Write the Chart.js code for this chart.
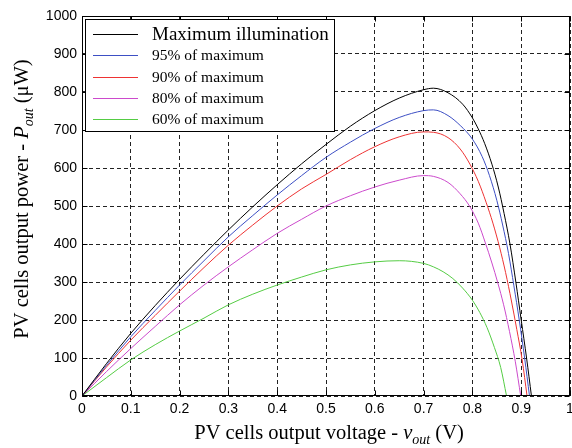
<!DOCTYPE html>
<html><head><meta charset="utf-8">
<script src="https://cdn.jsdelivr.net/npm/chart.js@4/dist/chart.umd.min.js"></script>
<style>html,body{margin:0;padding:0;background:#fff}#wrap{width:572px;height:448px}</style>
</head><body><div id="wrap"><canvas id="c" width="572" height="448"></canvas></div>
<script>
const seriesLabels = ['Maximum illumination', '95% of maximum', '90% of maximum', '80% of maximum', '60% of maximum'];
const seriesColors = ['#000000', '#3d4fc4', '#ee3333', '#cc4acc', '#55cc44'];

const voltsMax = [0,0.05,0.1,0.15,0.2,0.25,0.3,0.35,0.4,0.45,0.5,0.55,0.6,0.65,0.7,0.72,0.75,0.78,0.8,0.812,0.825,0.84,0.853,0.865,0.877,0.889,0.9,0.911,0.921];
const powerMax = [0,85,165,238,307,373,437,498,556,611,662,710,751,784,806,810,798,768,732,703,665,610,550,480,400,300,200,100,0];

const volts95 = [0,0.05,0.1,0.15,0.2,0.25,0.3,0.35,0.4,0.45,0.5,0.55,0.6,0.65,0.7,0.72,0.75,0.775,0.8,0.82,0.835,0.85,0.862,0.874,0.885,0.896,0.907,0.917];
const power95 = [0,80,156,225,292,356,419,475,529,580,628,668,704,733,751,753,738,712,676,630,580,515,450,375,290,200,100,0];

const volts90 = [0,0.05,0.1,0.15,0.2,0.25,0.3,0.35,0.4,0.45,0.5,0.55,0.6,0.65,0.7,0.72,0.75,0.775,0.795,0.812,0.828,0.842,0.856,0.868,0.88,0.891,0.902,0.912];
const power90 = [0,76,147,212,276,338,397,450,500,545,583,622,656,682,695,694,680,650,610,565,510,455,390,325,250,175,95,0];

const volts80 = [0,0.05,0.1,0.15,0.2,0.25,0.3,0.35,0.4,0.45,0.5,0.55,0.6,0.65,0.7,0.72,0.75,0.775,0.795,0.812,0.826,0.84,0.852,0.864,0.876,0.888,0.899];
const power80 = [0,64,125,183,240,292,340,385,428,465,500,527,550,568,580,578,562,532,498,455,405,350,298,240,170,90,0];

const volts60 = [0,0.05,0.1,0.15,0.2,0.25,0.3,0.35,0.4,0.45,0.5,0.55,0.6,0.65,0.7,0.72,0.74,0.76,0.78,0.8,0.815,0.83,0.845,0.858,0.87];
const power60 = [0,48,95,135,171,205,240,268,292,313,332,345,353,356,349,340,327,309,284,252,220,180,128,75,0];

const xTicks = [0,0.1,0.2,0.3,0.4,0.5,0.6,0.7,0.8,0.9,1];
const yTicks = [0,100,200,300,400,500,600,700,800,900,1000];

const seriesVolts = [voltsMax, volts95, volts90, volts80, volts60];
const seriesPower = [powerMax, power95, power90, power80, power60];

const datasets = seriesLabels.map((lab, i) => ({
  label: lab,
  data: seriesVolts[i].map((v, k) => ({x: v, y: seriesPower[i][k]})),
  borderColor: seriesColors[i],
  backgroundColor: seriesColors[i],
  borderWidth: 1,
  pointRadius: 0,
  fill: false,
  tension: 0.4,
  cubicInterpolationMode: 'monotone'
}));

function drawPieces(ctx, pieces, cx, baseY) {
  let total = 0;
  pieces.forEach(p => { ctx.font = p.font; p.w = ctx.measureText(p.t).width; total += p.w; });
  let xx = cx - total / 2;
  pieces.forEach(p => { ctx.font = p.font; ctx.fillText(p.t, xx, baseY + (p.dy || 0)); xx += p.w; });
}

const decorPlugin = {
  id: 'decor',
  afterDraw(chart) {
    const {ctx, chartArea: {left, right, top, bottom}, scales: {x, y}} = chart;
    ctx.save();
    ctx.strokeStyle = '#000';
    ctx.lineWidth = 1;
    ctx.setLineDash([]);
    const L = Math.round(left) + 0.5, R = Math.round(right) - 0.5, T = Math.round(top) + 0.5, B = Math.round(bottom) - 0.5;
    ctx.strokeRect(L, T, R - L, B - T);
    ctx.beginPath();
    xTicks.forEach(v => {
      const px = Math.round(x.getPixelForValue(v)) + 0.5;
      ctx.moveTo(px, B); ctx.lineTo(px, B - 5);
      ctx.moveTo(px, T); ctx.lineTo(px, T + 5);
    });
    yTicks.forEach(v => {
      const py = Math.round(y.getPixelForValue(v)) + 0.5;
      ctx.moveTo(L, py); ctx.lineTo(L + 5, py);
      ctx.moveTo(R, py); ctx.lineTo(R - 5, py);
    });
    ctx.stroke();

    const bx = 85.5, by = 19.5, bw = 249, bh = 112;
    ctx.fillStyle = '#fff';
    ctx.fillRect(bx, by, bw, bh);
    ctx.strokeStyle = '#000';
    ctx.strokeRect(bx, by, bw, bh);
    const rows = [34, 55, 76.5, 97.5, 118.5];
    ctx.textBaseline = 'middle';
    ctx.textAlign = 'left';
    chart.data.datasets.forEach((ds, i) => {
      ctx.strokeStyle = ds.borderColor;
      ctx.beginPath();
      ctx.moveTo(93, Math.round(rows[i]) + 0.5);
      ctx.lineTo(138, Math.round(rows[i]) + 0.5);
      ctx.stroke();
      ctx.fillStyle = '#000';
      ctx.font = (i === 0 ? '19px' : '15.5px') + ' "Liberation Serif", "Times New Roman", serif';
      ctx.fillText(ds.label, 152, rows[i] + 1);
    });

    ctx.fillStyle = '#000';
    ctx.textBaseline = 'alphabetic';
    const serif = '"Liberation Serif", "Times New Roman", serif';
    drawPieces(ctx, [
      {t: 'PV cells output voltage - ', font: '20.5px ' + serif},
      {t: 'v', font: 'italic 20.5px ' + serif},
      {t: 'out', font: 'italic 14px ' + serif, dy: 5},
      {t: ' (V)', font: '20.5px ' + serif}
    ], 329, 439);
    ctx.save();
    ctx.translate(28, 199);
    ctx.rotate(-Math.PI / 2);
    drawPieces(ctx, [
      {t: 'PV cells output power - ', font: '20.5px ' + serif},
      {t: 'P', font: 'italic 20.5px ' + serif},
      {t: 'out', font: 'italic 14px ' + serif, dy: 5},
      {t: ' (\u03BCW)', font: '20.5px ' + serif}
    ], 0, 0);
    ctx.restore();
    ctx.restore();
  }
};

const tickFont = {family: '"Liberation Sans", Arial, sans-serif', size: 14};

new Chart(document.getElementById('c'), {
  type: 'line',
  data: {datasets},
  options: {
    responsive: false,
    devicePixelRatio: 1,
    animation: false,
    layout: {padding: {top: 16, right: 2, left: 0, bottom: 0}},
    plugins: {legend: {display: false}, tooltip: {enabled: false}},
    scales: {
      x: {
        type: 'linear', min: 0, max: 1,
        afterBuildTicks(scale) { scale.ticks = xTicks.map(v => ({value: v})); },
        afterFit(scale) { scale.height = 52; scale.paddingLeft = 0; scale.paddingRight = 0; },
        ticks: {color: '#000', font: tickFont, padding: 5, maxRotation: 0,
          callback: v => (v === 0 || v === 1) ? String(v) : v.toFixed(1)},
        grid: {color: '#222', lineWidth: 1, drawTicks: false},
        border: {display: false, dash: [4, 3]}
      },
      y: {
        type: 'linear', min: 0, max: 1000,
        afterBuildTicks(scale) { scale.ticks = yTicks.map(v => ({value: v})); },
        afterFit(scale) { scale.width = 82; },
        ticks: {color: '#000', font: tickFont, padding: 5, callback: v => String(v)},
        grid: {color: '#222', lineWidth: 1, drawTicks: false},
        border: {display: false, dash: [4, 3]}
      }
    }
  },
  plugins: [decorPlugin]
});
</script>
</body></html>
